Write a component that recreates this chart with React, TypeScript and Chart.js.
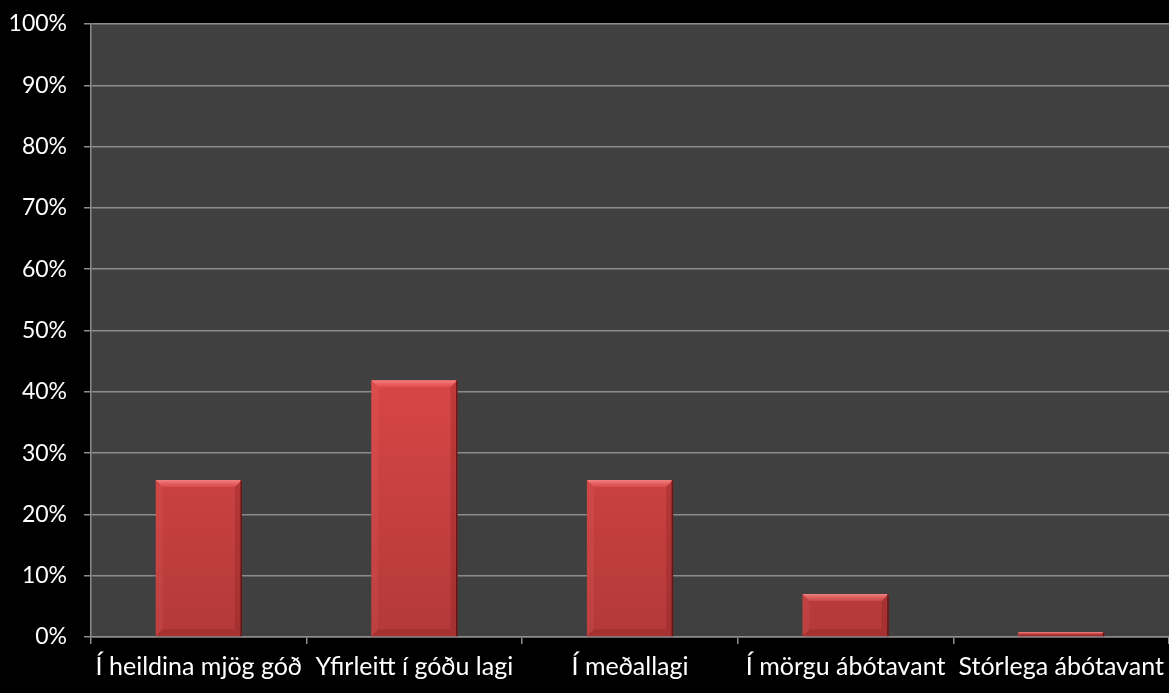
import React, { useEffect, useRef } from "react";
import { Chart, registerables } from "chart.js";

Chart.register(...registerables);

const categories = [
  "Í heildina mjög góð",
  "Yfirleitt í góðu lagi",
  "Í meðallagi",
  "Í mörgu ábótavant",
  "Stórlega ábótavant",
];
const values = [25.6, 41.9, 25.6, 7.0, 0.8];
const yTicks = [0, 10, 20, 30, 40, 50, 60, 70, 80, 90, 100];

const W = 1169;
const H = 693;

const bevelPlugin = {
  id: "bevel",
  afterDatasetsDraw(chart: any) {
    const ctx = chart.ctx;
    const meta = chart.getDatasetMeta(0);
    meta.data.forEach((bar: any) => {
      const { x, y, base, width } = bar.getProps(["x", "y", "base", "width"], true);
      const l = x - width / 2;
      const r = x + width / 2;
      const t = y;
      const b = base;
      const h = b - t;
      const d = Math.min(7, h / 2);
      ctx.save();
      const tg = ctx.createLinearGradient(0, t, 0, t + d);
      tg.addColorStop(0, "rgba(255,150,150,0.75)");
      tg.addColorStop(1, "rgba(255,110,110,0.25)");
      ctx.fillStyle = tg;
      ctx.beginPath();
      ctx.moveTo(l, t);
      ctx.lineTo(r, t);
      ctx.lineTo(r - d, t + d);
      ctx.lineTo(l + d, t + d);
      ctx.closePath();
      ctx.fill();
      ctx.fillStyle = "rgba(255,120,120,0.12)";
      ctx.beginPath();
      ctx.moveTo(l, t);
      ctx.lineTo(l + d, t + d);
      ctx.lineTo(l + d, b - d);
      ctx.lineTo(l, b);
      ctx.closePath();
      ctx.fill();
      ctx.fillStyle = "rgba(90,10,10,0.18)";
      ctx.beginPath();
      ctx.moveTo(r, t);
      ctx.lineTo(r, b);
      ctx.lineTo(r - d, b - d);
      ctx.lineTo(r - d, t + d);
      ctx.closePath();
      ctx.fill();
      ctx.fillStyle = "rgba(90,10,10,0.15)";
      ctx.beginPath();
      ctx.moveTo(l, b);
      ctx.lineTo(r, b);
      ctx.lineTo(r - d, b - d);
      ctx.lineTo(l + d, b - d);
      ctx.closePath();
      ctx.fill();
      ctx.fillStyle = "rgba(70,10,10,0.7)";
      ctx.fillRect(r - 1.5, t, 1.5, h);
      ctx.restore();
    });
  },
};

const plotBgPlugin = {
  id: "plotBg",
  beforeDraw(chart: any) {
    const { ctx, chartArea } = chart;
    ctx.save();
    ctx.fillStyle = "#000000";
    ctx.fillRect(0, 0, chart.width, chart.height);
    ctx.fillStyle = "#404040";
    ctx.fillRect(chartArea.left, chartArea.top, chartArea.right - chartArea.left, chartArea.bottom - chartArea.top);
    ctx.restore();
  },
};

export default function App() {
  const ref = useRef<HTMLCanvasElement | null>(null);
  useEffect(() => {
    document.body.style.margin = "0";
    document.body.style.background = "#000";
    const canvas = ref.current!;
    const chart = new Chart(canvas, {
      type: "bar",
      data: {
        labels: categories,
        datasets: [
          {
            data: values,
            backgroundColor: (c: any) => {
              const area = c.chart.chartArea;
              if (!area) return "#d44545";
              const g = c.chart.ctx.createLinearGradient(0, area.top, 0, area.bottom);
              g.addColorStop(0, "#e24a4a");
              g.addColorStop(0.55, "#da4747");
              g.addColorStop(1, "#b43939");
              return g;
            },
            borderWidth: 0,
            barPercentage: 0.4,
            categoryPercentage: 1,
          },
        ],
      },
      options: {
        responsive: false,
        animation: false,
        layout: { padding: { top: 24, right: 0, left: 0, bottom: 0 } },
        plugins: {
          legend: { display: false },
          tooltip: { enabled: false },
        },
        scales: {
          x: {
            offset: true,
            grid: {
              offset: true,
              drawOnChartArea: false,
              drawTicks: true,
              tickLength: 7,
              color: "#8c8c8c",
              lineWidth: 1.5,
            },
            border: { color: "#8c8c8c", width: 1.5 },
            ticks: {
              color: "#ffffff",
              font: { family: "Lato", size: 25 },
              padding: 8,
              maxRotation: 0,
              autoSkip: false,
            },
            afterFit(scale: any) {
              scale.height = 56;
              scale.paddingLeft = 0;
              scale.paddingRight = 0;
            },
          },
          y: {
            min: 0,
            max: 100,
            afterBuildTicks(scale: any) {
              scale.ticks = yTicks.map((v) => ({ value: v }));
            },
            grid: {
              color: "#8c8c8c",
              lineWidth: 1.5,
              tickLength: 7,
            },
            border: { color: "#8c8c8c", width: 1.5 },
            ticks: {
              color: "#ffffff",
              font: { family: "Lato", size: 23 },
              padding: 17,
              callback: (v: any) => v + "%",
            },
            afterFit(scale: any) {
              scale.width = 91;
              scale.paddingTop = 0;
              scale.paddingBottom = 0;
            },
          },
        },
      },
      plugins: [plotBgPlugin, bevelPlugin],
    });
    return () => chart.destroy();
  }, []);
  return (
    <div style={{ position: "fixed", left: 0, top: 0, width: W, height: H, background: "#000" }}>
      <canvas ref={ref} width={W} height={H} style={{ display: "block" }} />
    </div>
  );
}
